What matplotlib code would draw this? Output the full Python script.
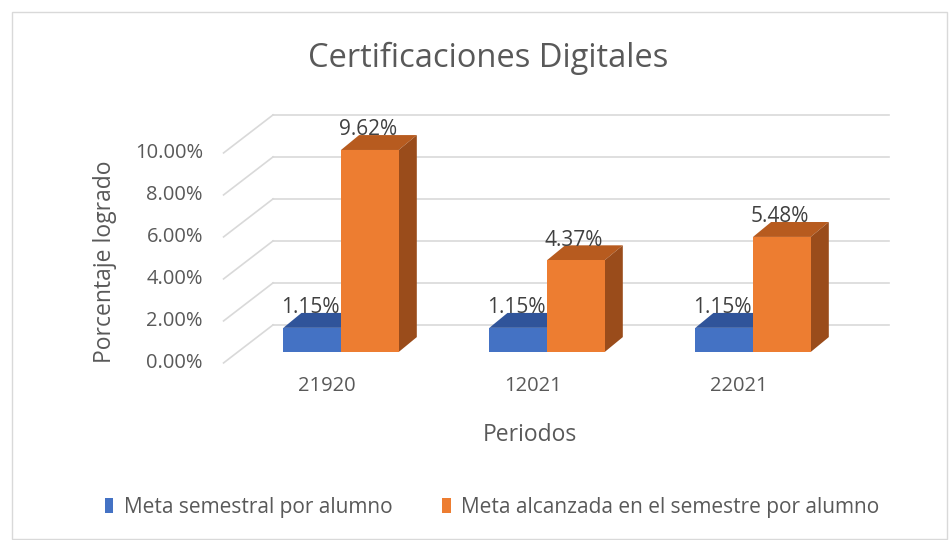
import matplotlib.pyplot as plt
from matplotlib.patches import Polygon, Rectangle, Patch

plt.rcParams["font.family"] = ["Open Sans", "DejaVu Sans"]

# chart data
periodos = ["21920", "12021", "22021"]
meta_semestral = [1.15, 1.15, 1.15]
meta_alcanzada = [9.62, 4.37, 5.48]
y_ticks = [0, 2, 4, 6, 8, 10]

BLUE = ("#4472C4", "#30549A", "#2A4A86")
ORANGE = ("#ED7D31", "#B75B1F", "#9A4C1B")
GRID = "#D9D9D9"
TEXT = "#595959"

BAR_W = 0.28
BAR_DX, BAR_DY = 0.088, 0.71      # depth of each column
FRONT_DX, FRONT_DY = -0.07, -0.52  # front edge of the floor
BACK_DX, BACK_DY = 0.17, 1.29      # back wall
WALL_L, WALL_R = -0.5, 2.49

fig = plt.figure(figsize=(9.49, 5.4), dpi=100)
fig.patches.append(Rectangle((12 / 949, 0.002), 935 / 949, 1 - 12 / 540 - 0.002,
                             transform=fig.transFigure, fill=False,
                             edgecolor=GRID, linewidth=1))

# axes placed so that 1 category = 206 px and 1% = 21 px
xlim, ylim = (-1, 2.9), (-3.2, 12)
left_px = 341 + 206 * xlim[0]
right_px = 341 + 206 * xlim[1]
top_px = 352 - 21 * ylim[1]
bot_px = 352 - 21 * ylim[0]
ax = fig.add_axes([left_px / 949, (540 - bot_px) / 540,
                   (right_px - left_px) / 949, (bot_px - top_px) / 540])
ax.set_xlim(*xlim)
ax.set_ylim(*ylim)
ax.set_axis_off()

# back wall and side wall gridlines
for v in y_ticks:
    ax.plot([WALL_L + BACK_DX, WALL_R + BACK_DX], [v + BACK_DY, v + BACK_DY],
            color=GRID, lw=1.2, zorder=1)
    ax.plot([WALL_L + FRONT_DX, WALL_L + BACK_DX], [v + FRONT_DY, v + BACK_DY],
            color=GRID, lw=1.2, zorder=1)
    ax.text(WALL_L + FRONT_DX - 0.1, v + FRONT_DY, f"{v:.2f}%", ha="right",
            va="center", fontsize=14.5, color=TEXT)


def draw_bar(x0, h, colors):
    front, top, side = colors
    x1 = x0 + BAR_W
    ax.add_patch(Polygon([(x0, h), (x1, h), (x1 + BAR_DX, h + BAR_DY),
                          (x0 + BAR_DX, h + BAR_DY)], closed=True,
                         facecolor=top, edgecolor="none", zorder=3))
    ax.add_patch(Polygon([(x1, 0), (x1 + BAR_DX, BAR_DY), (x1 + BAR_DX, h + BAR_DY),
                          (x1, h)], closed=True, facecolor=side,
                         edgecolor="none", zorder=3))
    ax.add_patch(Rectangle((x0, 0), BAR_W, h, facecolor=front,
                           edgecolor="none", zorder=4))
    ax.text(x0 + BAR_W / 2 - 0.01, h + BAR_DY - 0.25, f"{h:.2f}%", ha="center",
            va="bottom", fontsize=15, color="#404040", zorder=6)


for i, (a, b) in enumerate(zip(meta_semestral, meta_alcanzada)):
    draw_bar(i - BAR_W, a, BLUE)
    draw_bar(i, b, ORANGE)
    ax.text(i + FRONT_DX, FRONT_DY - 1.1, periodos[i], ha="center", va="center",
            fontsize=14.5, color=TEXT)

fig.text(530 / 949, 1 - 435 / 540, "Periodos", ha="center", va="center",
         fontsize=16.5, color=TEXT)
fig.text(105 / 949, 1 - 262 / 540, "Porcentaje logrado", ha="center",
         va="center", rotation=90, fontsize=16.5, color=TEXT)
fig.text(488 / 949, 1 - 58 / 540, "Certificaciones Digitales", ha="center",
         va="center", fontsize=23.5, color=TEXT)

handles = [Patch(facecolor=BLUE[0]), Patch(facecolor=ORANGE[0])]
fig.legend(handles, ["Meta semestral por alumno",
                     "Meta alcanzada en el semestre por alumno"],
           loc="center", bbox_to_anchor=(492 / 949, 1 - 507 / 540), ncol=2,
           frameon=False, fontsize=15, handlelength=0.4, handleheight=0.7,
           handletextpad=0.5, columnspacing=2.4, labelcolor=TEXT)

fig.savefig("out.png", dpi=100, facecolor="white")
